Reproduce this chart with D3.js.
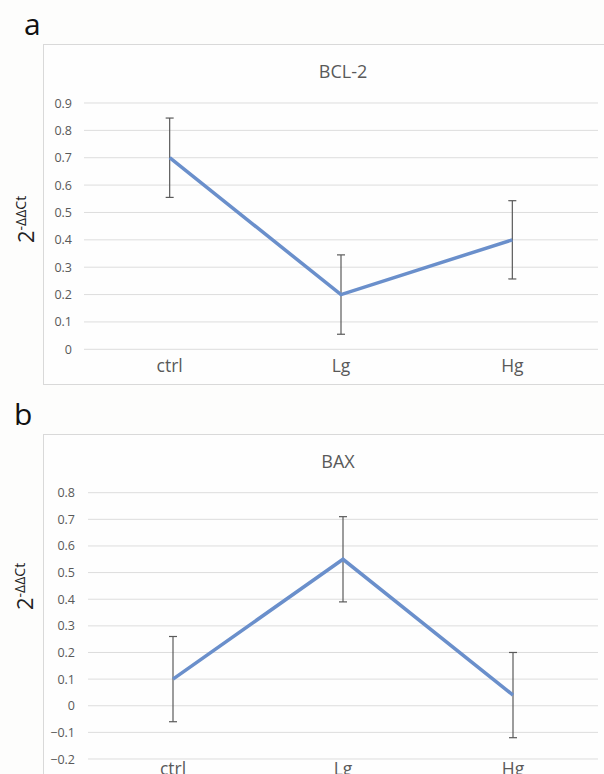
<!DOCTYPE html>
<html>
<head>
<meta charset="utf-8">
<script src="https://cdn.jsdelivr.net/npm/d3@7"></script>
<style>
  body { margin: 0; background: #fdfdfc; }
  svg { display: block; }
  text { font-family: "Open Sans", "DejaVu Sans", sans-serif; }
</style>
</head>
<body>
<svg id="fig" width="604" height="774"></svg>
<script>
// groups on the x axis
var categories = ["ctrl", "Lg", "Hg"];

// panel a: BCL-2
var bcl2Values = [0.70, 0.20, 0.40];
var bcl2Errors = [0.145, 0.145, 0.143];
var bcl2Ticks = [0, 0.1, 0.2, 0.3, 0.4, 0.5, 0.6, 0.7, 0.8, 0.9];

// panel b: BAX
var baxValues = [0.10, 0.55, 0.04];
var baxErrors = [0.16, 0.16, 0.16];
var baxTicks = [-0.2, -0.1, 0, 0.1, 0.2, 0.3, 0.4, 0.5, 0.6, 0.7, 0.8];

var svg = d3.select("#fig");
var textColor = "#595959";

function panel(opt) {
  var g = svg.append("g");

  // chart frame (right edge runs off the picture)
  g.append("rect")
    .attr("x", opt.frame[0]).attr("y", opt.frame[1])
    .attr("width", opt.frame[2]).attr("height", opt.frame[3])
    .attr("fill", "#fefefe")
    .attr("stroke", "#d9d9d9").attr("stroke-width", 1);

  g.append("text")
    .attr("x", opt.letterPos[0]).attr("y", opt.letterPos[1])
    .attr("font-size", 30).attr("fill", "#111")
    .text(opt.letter);

  var y = d3.scaleLinear().domain(d3.extent(opt.ticks)).range(opt.yRange);
  var x = d3.scaleBand().domain(categories).range(opt.xRange);

  // gridlines
  g.selectAll(".grid")
    .data(opt.ticks)
    .enter().append("line")
    .attr("x1", opt.xRange[0]).attr("x2", opt.xRange[1])
    .attr("y1", d => y(d)).attr("y2", d => y(d))
    .attr("stroke", "#dddddd").attr("stroke-width", 1);

  // y axis labels
  var yAxis = d3.axisLeft(y).tickValues(opt.ticks).tickSize(0).tickPadding(0)
    .tickFormat(d => d3.format("")(+d.toFixed(1)));
  var ya = g.append("g")
    .attr("transform", "translate(" + opt.labelRight + ",0)")
    .call(yAxis);
  ya.select(".domain").remove();
  ya.selectAll("text")
    .attr("font-size", 12.5).attr("fill", textColor)
    .attr("font-family", "\"Open Sans\", sans-serif");

  // category labels
  var xAxis = d3.axisBottom(x).tickSize(0).tickPadding(0);
  var xa = g.append("g")
    .attr("transform", "translate(0," + opt.catY + ")")
    .call(xAxis);
  xa.select(".domain").remove();
  xa.selectAll("text")
    .attr("dy", 0)
    .attr("font-size", 17.5).attr("fill", textColor)
    .attr("font-family", "\"Open Sans\", sans-serif");

  // title
  g.append("text")
    .attr("x", opt.titlePos[0]).attr("y", opt.titlePos[1])
    .attr("text-anchor", "middle")
    .attr("font-size", 18).attr("fill", textColor)
    .text(opt.title);

  // y axis title 2^-ΔΔCt, reads upward from its start point
  var yt = g.append("text")
    .attr("transform", "translate(" + opt.yTitle[0] + "," + opt.yTitle[1] + ") rotate(-90)")
    .attr("text-anchor", "start")
    .attr("fill", "#222");
  yt.append("tspan").attr("font-size", 22).text("2");
  yt.append("tspan").attr("font-size", 14).attr("dy", -8).text("-ΔΔCt");

  var cx = d => x(d) + x.bandwidth() / 2;

  // error bars
  var eb = g.selectAll(".err")
    .data(categories)
    .enter().append("g")
    .attr("stroke", "#5a5a5a").attr("stroke-width", 1.2);
  eb.append("line")
    .attr("x1", cx).attr("x2", cx)
    .attr("y1", (d, i) => y(opt.values[i] + opt.errors[i]))
    .attr("y2", (d, i) => y(opt.values[i] - opt.errors[i]));
  eb.append("line")
    .attr("x1", d => cx(d) - 4).attr("x2", d => cx(d) + 4)
    .attr("y1", (d, i) => y(opt.values[i] + opt.errors[i]))
    .attr("y2", (d, i) => y(opt.values[i] + opt.errors[i]));
  eb.append("line")
    .attr("x1", d => cx(d) - 4).attr("x2", d => cx(d) + 4)
    .attr("y1", (d, i) => y(opt.values[i] - opt.errors[i]))
    .attr("y2", (d, i) => y(opt.values[i] - opt.errors[i]));

  // the line
  var line = d3.line()
    .x((d, i) => cx(categories[i]))
    .y(d => y(d));
  g.append("path")
    .datum(opt.values)
    .attr("d", line)
    .attr("fill", "none")
    .attr("stroke", "#6a8fcb")
    .attr("stroke-width", 3.5)
    .attr("stroke-linejoin", "miter");
}

panel({
  letter: "a", letterPos: [24, 35],
  frame: [43.5, 44.5, 600, 340],
  ticks: bcl2Ticks, values: bcl2Values, errors: bcl2Errors,
  yRange: [349.3, 103], xRange: [84, 598],
  labelRight: 72, catY: 372,
  title: "BCL-2", titlePos: [343, 78],
  yTitle: [34, 243]
});

panel({
  letter: "b", letterPos: [14, 425],
  frame: [43.5, 434.5, 600, 400],
  ticks: baxTicks, values: baxValues, errors: baxErrors,
  yRange: [759, 492.7], xRange: [88, 598],
  labelRight: 75, catY: 775,
  title: "BAX", titlePos: [338, 468],
  yTitle: [33, 610]
});
</script>
</body>
</html>
